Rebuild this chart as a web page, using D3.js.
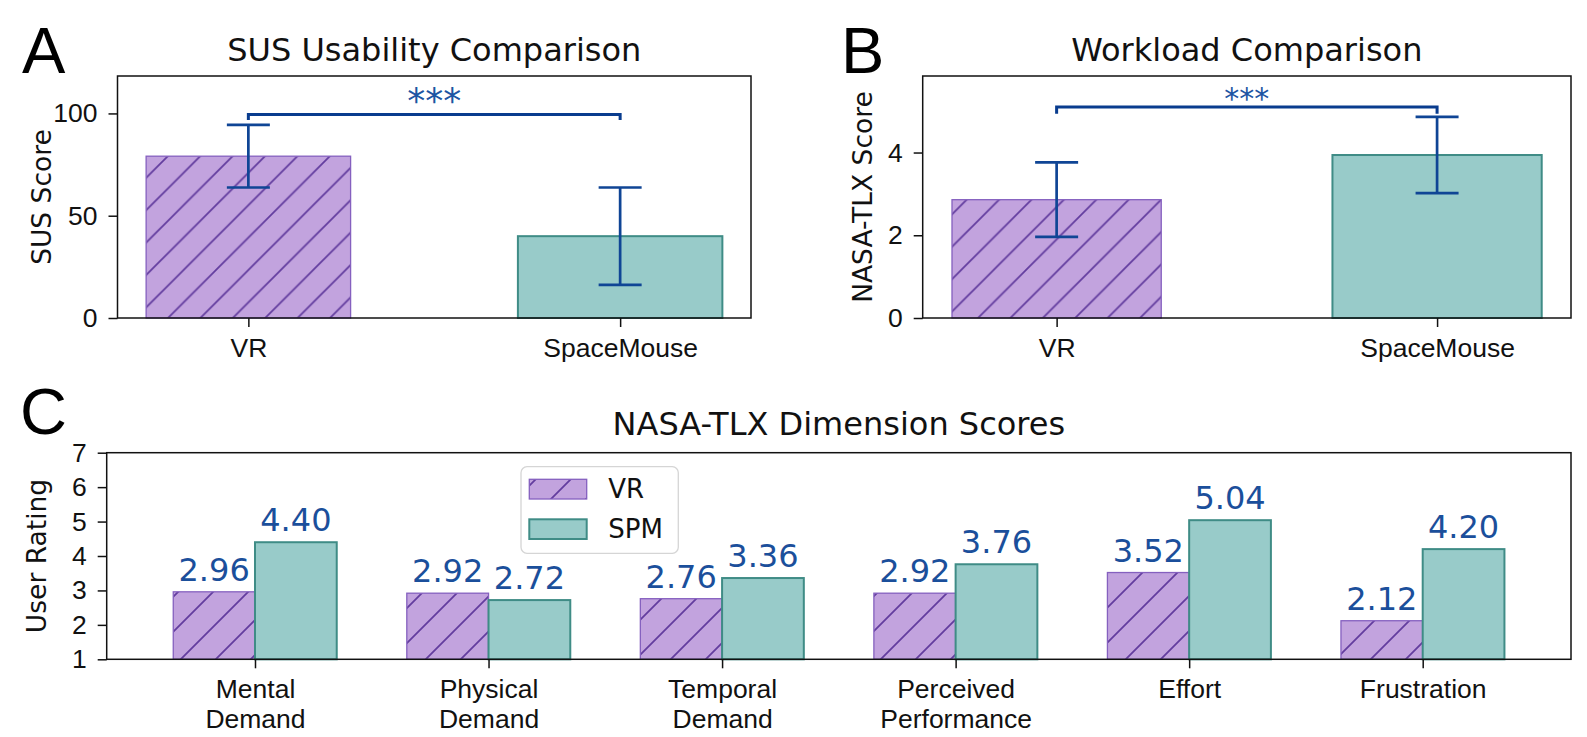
<!DOCTYPE html>
<html lang="en">
<head>
<meta charset="UTF-8">
<title>SUS and NASA-TLX Comparison</title>
<script src="https://d3js.org/d3.v7.min.js"></script>
<style>
  body { margin: 0; background: #fff; }
  svg { display: block; font-family: "DejaVu Sans", sans-serif; }
  .tick text { font-size: 26.5px; fill: #111; }
  .tick line { stroke: #111; stroke-width: 1.5; }
  .title { font-size: 32px; fill: #111; text-anchor: middle; }
  .ylabel { font-size: 26.5px; fill: #111; text-anchor: middle; }
  .letter { font-family: "Liberation Sans", Arial, sans-serif; font-size: 65px; fill: #000; }
</style>
</head>
<body>
<svg id="chart" width="1587" height="737"></svg>
<script>
// data
const groups = ["VR", "SpaceMouse"];
const susMean = [79.1, 40.0];
const susSd = [15.3, 23.8];
const susTicks = [0, 50, 100];
const tlxMean = [2.86, 3.94];
const tlxSd = [0.90, 0.92];
const tlxTicks = [0, 2, 4];
const dimensions = ["Mental\nDemand", "Physical\nDemand", "Temporal\nDemand", "Perceived\nPerformance", "Effort", "Frustration"];
const vrScores = [2.96, 2.92, 2.76, 2.92, 3.52, 2.12];
const spmScores = [4.40, 2.72, 3.36, 3.76, 5.04, 4.20];
const ratingTicks = [1, 2, 3, 4, 5, 6, 7];
const seriesNames = ["VR", "SPM"];

const purple = "#c2a3de", purpleEdge = "#8560bf", hatchColor = "#633d9f";
const teal = "#98cbc9", tealEdge = "#3f8c86";
const errColor = "#0f4595", bracketColor = "#093c8e", labelColor = "#1b4f9b";

const svg = d3.select("#chart");
const defs = svg.append("defs");

function makeHatch(id, s) {
    const p = defs.append("pattern")
        .attr("id", id)
        .attr("patternUnits", "userSpaceOnUse")
        .attr("width", s).attr("height", s);
    p.append("rect").attr("width", s).attr("height", s).attr("fill", purple);
    p.append("path")
        .attr("d", `M0,${s} L${s},0 M${-s / 2},${s / 2} L${s / 2},${-s / 2} M${s / 2},${s * 1.5} L${s * 1.5},${s / 2}`)
        .attr("stroke", hatchColor)
        .attr("stroke-width", 1.8);
}
makeHatch("hatchAB", 32.4);
makeHatch("hatchC", 35);

function yAxis(g, y, ticks) {
    g.call(d3.axisLeft(y).tickValues(ticks).tickSize(9).tickPadding(11).tickFormat(d3.format("d")));
    g.select(".domain").remove();
}

// Panel A / B: two bars with error bars and significance bracket
function drawPair(o) {
    const x = d3.scaleLinear().domain([-0.352, 1.352]).range([o.left, o.right]);
    const y = d3.scaleLinear().domain([0, o.yMax]).range([o.bottom, o.top]);
    const bw = x(0.55) - x(0);
    const g = svg.append("g");

    g.selectAll("rect.bar")
        .data(o.means)
        .enter().append("rect")
        .attr("class", "bar")
        .attr("x", (d, i) => x(i) - bw / 2)
        .attr("y", d => y(d))
        .attr("width", bw)
        .attr("height", d => y(0) - y(d))
        .attr("fill", (d, i) => i === 0 ? "url(#hatchAB)" : teal)
        .attr("stroke", (d, i) => i === 0 ? purpleEdge : tealEdge)
        .attr("stroke-width", (d, i) => i === 0 ? 1.3 : 2);

    // error bars
    o.means.forEach((m, i) => {
        const cx = x(i);
        g.append("line")
            .attr("x1", cx).attr("x2", cx)
            .attr("y1", y(m - o.sds[i])).attr("y2", y(m + o.sds[i]))
            .attr("stroke", errColor).attr("stroke-width", 2.7);
        [m - o.sds[i], m + o.sds[i]].forEach(v => {
            g.append("line")
                .attr("x1", cx - 21.5).attr("x2", cx + 21.5)
                .attr("y1", y(v)).attr("y2", y(v))
                .attr("stroke", errColor).attr("stroke-width", 2.7);
        });
    });

    // bracket
    g.append("path")
        .attr("d", `M${x(0)},${y(o.bracket - o.drop)} V${y(o.bracket)} H${x(1)} V${y(o.bracket - o.drop)}`)
        .attr("fill", "none")
        .attr("stroke", bracketColor)
        .attr("stroke-width", 3);
    g.append("text")
        .attr("x", (x(0) + x(1)) / 2)
        .attr("y", o.starY)
        .attr("text-anchor", "middle")
        .attr("font-size", o.starSize + "px")
        .attr("fill", "#1d55a3")
        .text("***");

    g.append("rect")
        .attr("x", o.left).attr("y", o.top)
        .attr("width", o.right - o.left).attr("height", o.bottom - o.top)
        .attr("fill", "none").attr("stroke", "#111").attr("stroke-width", 1.5);

    g.append("g").attr("transform", `translate(${o.left},0)`).call(yAxis, y, o.ticks);

    const xa = g.append("g").attr("transform", `translate(0,${o.bottom})`)
        .call(d3.axisBottom(x).tickValues([0, 1]).tickSize(9).tickPadding(11).tickFormat(i => groups[i]));
    xa.select(".domain").remove();

    g.append("text").attr("class", "title")
        .attr("x", (o.left + o.right) / 2).attr("y", 61)
        .text(o.title);
    g.append("text").attr("class", "ylabel")
        .attr("transform", `translate(${o.labelX},${(o.top + o.bottom) / 2}) rotate(-90)`)
        .text(o.ylabel);
    g.append("text").attr("class", "letter")
        .attr("x", o.letterX).attr("y", 73)
        .text(o.letter);
}

drawPair({
    left: 117.5, right: 751, top: 76, bottom: 318, yMax: 118.3,
    means: susMean, sds: susSd, ticks: susTicks,
    bracket: 99.5, drop: 2.7, starY: 113, starSize: 36,
    title: "SUS Usability Comparison", ylabel: "SUS Score", labelX: 50.5,
    letter: "A", letterX: 22
});

drawPair({
    left: 922.7, right: 1571, top: 76, bottom: 318, yMax: 5.85,
    means: tlxMean, sds: tlxSd, ticks: tlxTicks,
    bracket: 5.10, drop: 0.16, starY: 109, starSize: 30,
    title: "Workload Comparison", ylabel: "NASA-TLX Score", labelX: 872,
    letter: "B", letterX: 841
});

// Panel C: grouped bars
(function () {
    const left = 106.7, right = 1571, top = 452.7, bottom = 659.3;
    const x = d3.scaleLinear().domain([-0.635, 5.635]).range([left, right]);
    const y = d3.scaleLinear().domain([1, 7]).range([bottom, top]);
    const w = 0.35;
    const bw = x(w) - x(0);
    const g = svg.append("g");

    const series = [
        { name: seriesNames[0], values: vrScores, off: -w / 2, fill: "url(#hatchC)", stroke: purpleEdge, sw: 1.3 },
        { name: seriesNames[1], values: spmScores, off: w / 2, fill: teal, stroke: tealEdge, sw: 2 }
    ];

    series.forEach(s => {
        g.selectAll(null)
            .data(s.values)
            .enter().append("rect")
            .attr("x", (d, i) => x(i + s.off) - bw / 2)
            .attr("y", d => y(d))
            .attr("width", bw)
            .attr("height", d => y(1) - y(d))
            .attr("fill", s.fill)
            .attr("stroke", s.stroke)
            .attr("stroke-width", s.sw);

        g.selectAll(null)
            .data(s.values)
            .enter().append("text")
            .attr("x", (d, i) => x(i + s.off))
            .attr("y", d => y(d) - 11)
            .attr("text-anchor", "middle")
            .attr("font-size", "32px")
            .attr("fill", labelColor)
            .text(d => d.toFixed(2));
    });

    g.append("rect")
        .attr("x", left).attr("y", top)
        .attr("width", right - left).attr("height", bottom - top)
        .attr("fill", "none").attr("stroke", "#111").attr("stroke-width", 1.5);

    g.append("g").attr("transform", `translate(${left},0)`).call(yAxis, y, ratingTicks);

    const xa = g.append("g").attr("transform", `translate(0,${bottom})`)
        .call(d3.axisBottom(x).tickValues(d3.range(dimensions.length)).tickSize(9).tickPadding(11).tickFormat(() => ""));
    xa.select(".domain").remove();
    xa.selectAll(".tick text").each(function (d) {
        const t = d3.select(this);
        dimensions[d].split("\n").forEach((line, k) => {
            t.append("tspan").attr("x", 0).attr("dy", k === 0 ? "0.71em" : "1.14em").text(line);
        });
    });

    // legend
    const lg = g.append("g");
    lg.append("rect")
        .attr("x", 521).attr("y", 466.7).attr("width", 157.3).attr("height", 86.6)
        .attr("rx", 6).attr("fill", "#fff").attr("fill-opacity", 0.8)
        .attr("stroke", "#d5d5d5").attr("stroke-width", 1.3);
    series.forEach((s, k) => {
        lg.append("rect")
            .attr("x", 529.3).attr("y", 479.3 + k * 40).attr("width", 57.4).attr("height", 19.7)
            .attr("fill", s.fill).attr("stroke", s.stroke).attr("stroke-width", s.sw);
        lg.append("text")
            .attr("x", 608.3).attr("y", 498.3 + k * 40)
            .attr("font-size", "26px").attr("fill", "#111")
            .text(s.name);
    });

    g.append("text").attr("class", "title")
        .attr("x", (left + right) / 2).attr("y", 435)
        .text("NASA-TLX Dimension Scores");
    g.append("text").attr("class", "ylabel")
        .attr("transform", `translate(46,${(top + bottom) / 2}) rotate(-90)`)
        .text("User Rating");
    g.append("text").attr("class", "letter")
        .attr("x", 20).attr("y", 434)
        .text("C");
})();
</script>
</body>
</html>
